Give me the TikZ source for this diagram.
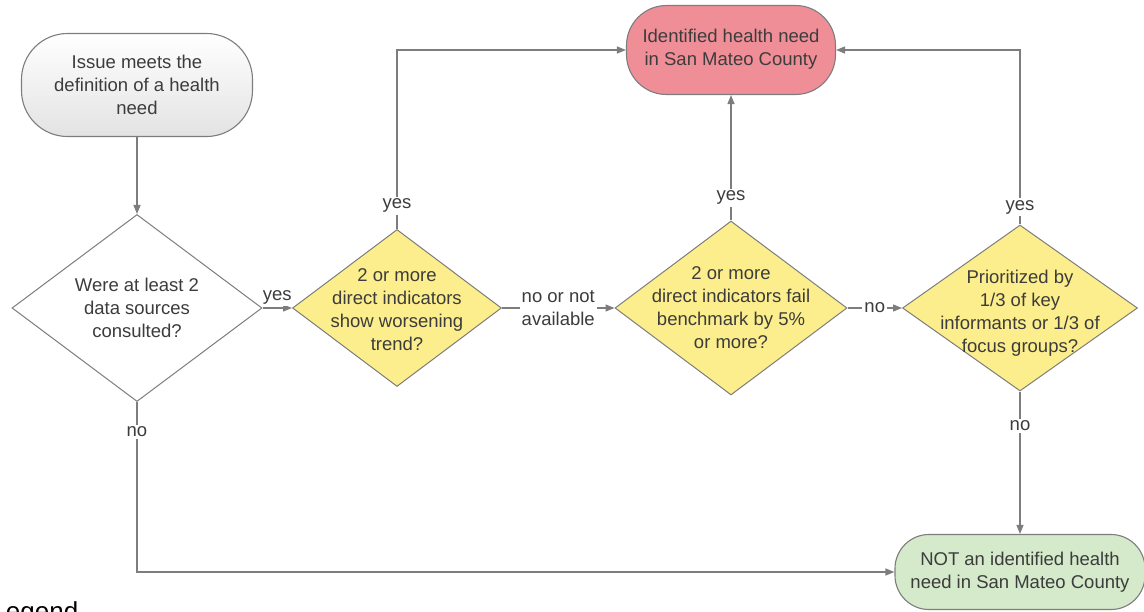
\documentclass[tikz,border=0pt]{standalone}
\usepackage{fontspec}
\setmainfont{Liberation Sans}
\usetikzlibrary{shapes.geometric, arrows.meta}
\definecolor{linegray}{RGB}{125,125,125}
\definecolor{textgray}{RGB}{60,60,60}
\definecolor{yellowfill}{RGB}{252,238,140}
\definecolor{redfill}{RGB}{240,142,152}
\definecolor{greenfill}{RGB}{212,234,202}
\tikzstyle{startstop} = [rectangle, draw=linegray, line width=1.1pt, text=textgray, align=center, inner sep=0pt]
\tikzstyle{decision} = [diamond, draw=linegray, line width=1pt, inner sep=0pt]
\tikzstyle{dtext} = [text=textgray, align=center]
\tikzstyle{arrow} = [line width=1.3pt, draw=linegray, -{Triangle[length=9pt,width=7pt]}]
\tikzstyle{lbl} = [fill=white, inner sep=2pt, text=textgray, align=center]

\begin{document}
\begin{tikzpicture}[x=1pt, y=-1pt, font=\fontsize{18.5}{23}\selectfont]

\useasboundingbox (0,0) rectangle (1144,611);
\clip (0,0) rectangle (1144,611);

\node (start) [startstop, minimum width=231pt, minimum height=103pt, rounded corners=46pt, top color=white, bottom color=gray!22] at (137,85) {Issue meets the\\definition of a health\\need};
\node (d1) [decision, fill=white, minimum width=250pt, minimum height=187pt, below of=start, node distance=223pt, label={[dtext]center:Were at least 2\\data sources\\consulted?}] {};
\node (d2) [decision, fill=yellowfill, minimum width=209pt, minimum height=157pt, right of=d1, node distance=260pt, label={[dtext, yshift=-2pt]center:2 or more\\direct indicators\\show worsening\\trend?}] {};
\node (d3) [decision, fill=yellowfill, minimum width=232pt, minimum height=174pt, right of=d2, node distance=334pt, label={[dtext]center:2 or more\\direct indicators fail\\benchmark by 5\%\\or more?}] {};
\node (d4) [decision, fill=yellowfill, minimum width=235pt, minimum height=166pt, right of=d3, node distance=289pt, label={[dtext, yshift=-5pt]center:Prioritized by\\1/3 of key\\informants or 1/3 of\\focus groups?}] {};
\node (red) [startstop, fill=redfill, minimum width=209pt, minimum height=89pt, rounded corners=40pt, above of=d3, node distance=258pt, text depth=5pt] {Identified health need\\in San Mateo County};
\node (green) [startstop, fill=greenfill, minimum width=250pt, minimum height=75pt, rounded corners=34pt, below of=d4, node distance=264pt] {NOT an identified health\\need in San Mateo County};
\node (legend) [anchor=base west, font=\fontsize{26}{30}\selectfont] at (-12,620) {Legend};

\draw [arrow] (start) -- (d1);
\draw [arrow] (d1) -- node[lbl, above=1pt] {yes} (d2);
\draw [arrow] (d2) |- node[lbl, pos=0.065] {yes} (red);
\draw [arrow] (d2) -- node[lbl] {no or not\\available} (d3);
\draw [arrow] (d3) -- node[lbl, pos=0.18] {yes} (red);
\draw [arrow] (d3) -- node[lbl] {no} (d4);
\draw [arrow] (d4) |- node[lbl, pos=0.05] {yes} (red);
\draw [arrow] (d4) -- node[lbl, pos=0.24] {no} (green);
\draw [arrow] (d1) |- node[lbl, pos=0.088] {no} (green);

\end{tikzpicture}
\end{document}
